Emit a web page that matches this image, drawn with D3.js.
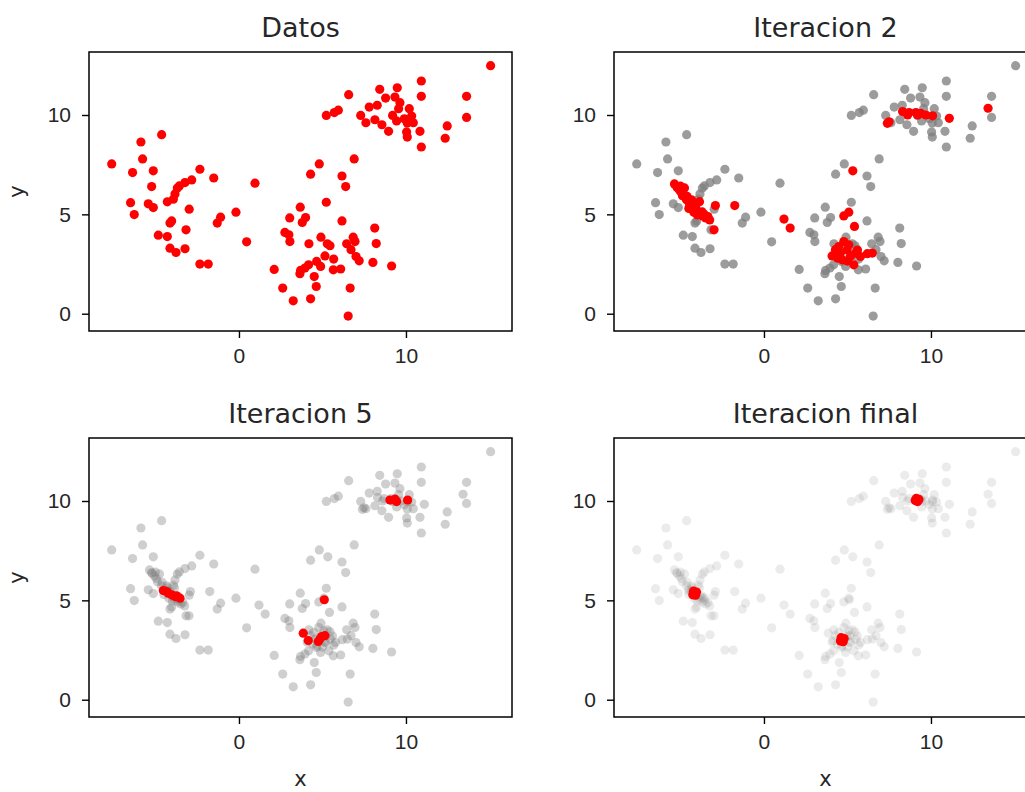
<!DOCTYPE html>
<html>
<head>
<meta charset="utf-8">
<script src="https://cdn.jsdelivr.net/npm/d3@7"></script>
<style>
  body { margin: 0; background: #fff; }
  svg { display: block; font-family: "DejaVu Sans", sans-serif; }
</style>
</head>
<body>
<div id="chart"></div>
<script>
// original points
const datos = [
  [-4.63,9.01],[-5.87,8.64],[-5.77,7.79],[-7.62,7.54],[-6.37,7.10],[-5.13,7.19],[-2.34,7.27],[-1.51,6.83],
  [-2.83,6.73],[-3.23,6.60],[-3.57,6.43],[-3.69,6.32],[-3.83,6.03],[-3.93,5.76],[-4.29,5.63],[-5.23,6.40],
  [-6.49,5.59],[-6.27,4.99],[-5.43,5.53],[-5.13,5.34],[-2.98,5.26],[-4.03,4.67],[-4.13,4.56],[-3.17,4.22],
  [-4.83,3.95],[-4.29,3.88],[-4.13,3.30],[-3.77,3.08],[-3.23,3.27],[-2.34,2.50],[-1.84,2.50],[-1.10,4.86],
  [-1.30,4.56],[-0.18,5.11],[0.46,3.62],[0.96,6.57],
  [6.90,7.79],[4.81,7.54],[4.29,7.02],[6.17,6.93],[6.39,6.40],[5.23,5.61],[3.67,5.36],[3.04,4.82],
  [3.99,4.84],[3.79,4.59],[6.17,4.67],[8.13,4.31],[2.75,4.09],[2.99,3.97],[3.05,3.63],[4.19,3.52],
  [4.91,3.85],[5.29,3.52],[5.45,3.42],[6.84,3.85],[6.45,3.52],[6.95,3.63],[6.71,3.22],[8.22,3.53],
  [5.15,2.91],[5.67,2.75],[7.01,2.88],[7.20,2.66],[8.02,2.58],[9.14,2.40],[4.65,2.63],[4.89,2.38],
  [4.17,2.46],[3.95,2.30],[3.69,2.18],[3.65,2.01],[5.65,2.21],[6.09,2.25],[2.11,2.23],[4.51,1.87],
  [4.63,1.37],[2.62,1.29],[3.25,0.65],[4.29,0.75],[6.66,1.29],[6.54,-0.12],
  [15.07,12.48],[10.92,11.71],[9.48,11.37],[8.43,11.29],[6.57,11.02],[10.92,10.94],[13.63,10.94],[8.78,10.85],
  [9.34,10.90],[9.64,10.62],[7.80,10.40],[8.28,10.49],[10.20,10.32],[9.56,10.32],[5.95,10.24],[5.71,10.12],
  [5.23,9.98],[7.29,9.98],[9.20,9.98],[10.34,9.95],[13.63,9.88],[8.14,9.76],[7.60,9.61],[9.44,9.70],
  [9.90,9.81],[10.08,9.60],[10.44,9.61],[8.56,9.51],[8.96,9.18],[10.04,9.15],[10.08,8.89],[10.84,9.18],
  [12.47,9.45],[12.35,8.83],[10.92,8.39]
];

const iter2 = [
  [-5.36,6.53],[-5.06,6.23],[-4.88,5.93],[-4.64,5.73],[-4.46,5.53],[-4.28,5.38],[-4.04,5.23],[-3.86,5.08],
  [-3.67,4.92],[-3.49,4.82],[-3.25,4.72],[-4.76,6.33],[-4.34,5.73],[-3.86,5.64],[-3.98,4.97],[-3.36,4.89],
  [-5.20,6.35],[-4.95,6.10],[-4.60,5.90],[-4.30,5.50],[-4.10,5.42],[-3.70,5.12],[-3.58,5.00],[-5.00,6.42],
  [-4.50,5.30],[-4.20,5.10],
  [-2.91,5.44],[-1.75,5.44],[-2.99,4.22],
  [5.32,7.19],[1.20,4.76],[1.57,4.31],[5.08,5.11],[4.78,4.92],[5.42,4.39],[4.78,3.63],[4.28,3.22],
  [4.08,2.91],[4.58,3.05],[4.98,3.22],[5.18,2.88],[5.48,3.05],[5.78,2.88],[6.19,3.02],[6.49,3.05],
  [5.38,2.46],[4.68,2.71],[4.48,3.38],[5.08,3.47],[4.40,2.80],[5.00,2.65],[5.60,3.20],
  [7.49,9.66],[7.39,9.58],[8.30,10.17],[8.69,10.12],[9.10,10.12],[9.40,10.08],[9.70,10.00],[10.10,9.96],
  [11.10,9.83],[13.42,10.34],[8.60,10.00],[9.20,10.00]
];

const iter5 = [
  [-4.53,5.49],[-4.33,5.44],[-4.23,5.36],[-4.03,5.28],[-3.83,5.19],[-3.73,5.23],[-3.53,5.11],
  [5.11,5.03],[3.85,3.35],[4.15,2.98],[4.75,2.93],[4.95,3.18],[5.15,3.22],[4.85,3.05],
  [9.04,10.05],[9.34,10.09],[9.44,9.97],[10.10,10.05]
];

const iterFinal = [
  [-4.16,5.36],[-4.04,5.42],[-4.26,5.28],[-4.10,5.26],[-4.22,5.46],
  [4.68,3.02],[4.80,3.08],[4.58,2.96],[4.74,2.92],[4.62,3.12],
  [9.16,10.05],[9.28,10.08],[9.06,10.02],[9.20,9.97],[9.12,10.13]
];

const titles = ["Datos", "Iteracion 2", "Iteracion 5", "Iteracion final"];
const xTicks = [0, 10];
const yTicks = [0, 5, 10];
const xDomain = [-8.98, 16.35];
const yDomain = [-0.87, 13.17];

const W = 1025, H = 792;
const panelW = 423, panelH = 279;
const panels = [
  { left: 89,  top: 52,  title: titles[0], gray: [],                         grayOp: 0,    red: datos,     xlab: false, ylab: true },
  { left: 614, top: 52,  title: titles[1], gray: datos,                      grayOp: 0.78, red: iter2,     xlab: false, ylab: false },
  { left: 89,  top: 438, title: titles[2], gray: datos.concat(iter2),        grayOp: 0.38, red: iter5,     xlab: true,  ylab: true },
  { left: 614, top: 438, title: titles[3], gray: datos.concat(iter2, iter5), grayOp: 0.16, red: iterFinal, xlab: true,  ylab: false }
];

const svg = d3.select("#chart").append("svg")
  .attr("width", W)
  .attr("height", H);

const x = d3.scaleLinear().domain(xDomain).range([0, panelW]);
const y = d3.scaleLinear().domain(yDomain).range([panelH, 0]);

panels.forEach(p => {
  const g = svg.append("g").attr("transform", `translate(${p.left},${p.top})`);

  g.append("g").selectAll("circle")
    .data(p.gray)
    .enter()
    .append("circle")
    .attr("cx", d => x(d[0]))
    .attr("cy", d => y(d[1]))
    .attr("r", 4.6)
    .attr("fill", "#808080")
    .attr("fill-opacity", p.grayOp);

  g.append("g").selectAll("circle")
    .data(p.red)
    .enter()
    .append("circle")
    .attr("cx", d => x(d[0]))
    .attr("cy", d => y(d[1]))
    .attr("r", 4.6)
    .attr("fill", "#ff0000");

  const xAxis = g.append("g")
    .attr("transform", `translate(0,${panelH})`)
    .call(d3.axisBottom(x).tickValues(xTicks).tickSize(7).tickPadding(10).tickFormat(d3.format("d")));
  const yAxis = g.append("g")
    .call(d3.axisLeft(y).tickValues(yTicks).tickSize(7).tickPadding(11).tickFormat(d3.format("d")));

  [xAxis, yAxis].forEach(a => {
    a.select(".domain").remove();
    a.selectAll("line").attr("stroke", "#000").attr("stroke-width", 1.4);
    a.selectAll("text").attr("font-size", "21px").attr("fill", "#262626");
  });

  g.append("rect")
    .attr("width", panelW)
    .attr("height", panelH)
    .attr("fill", "none")
    .attr("stroke", "#000")
    .attr("stroke-width", 1.5);

  g.append("text")
    .attr("x", panelW / 2)
    .attr("y", -15)
    .attr("text-anchor", "middle")
    .attr("font-size", "27px")
    .attr("fill", "#262626")
    .text(p.title);

  if (p.xlab) {
    g.append("text")
      .attr("x", panelW / 2)
      .attr("y", panelH + 69)
      .attr("text-anchor", "middle")
      .attr("font-size", "21px")
      .attr("fill", "#262626")
      .text("x");
  }
  if (p.ylab) {
    g.append("text")
      .attr("transform", `translate(${-65},${panelH / 2}) rotate(-90)`)
      .attr("text-anchor", "middle")
      .attr("font-size", "21px")
      .attr("fill", "#262626")
      .text("y");
  }
});
</script>
</body>
</html>
